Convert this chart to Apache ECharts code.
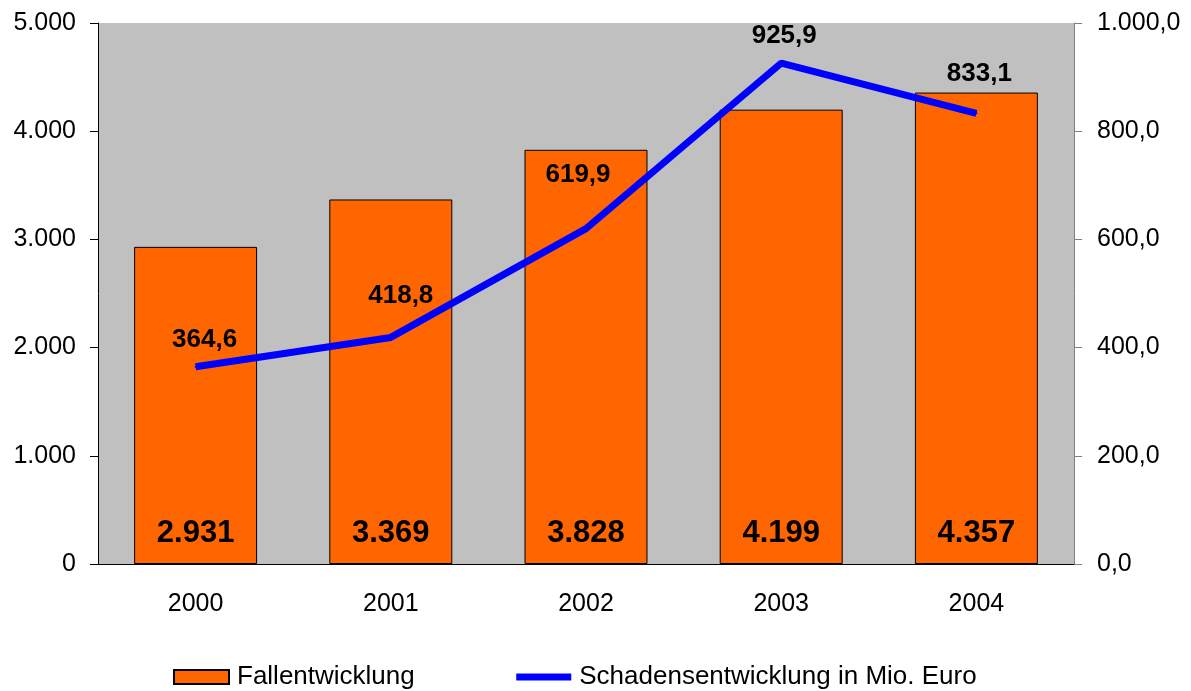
<!DOCTYPE html>
<html>
<head>
<meta charset="utf-8">
<style>
  html, body { margin: 0; padding: 0; background: #ffffff; }
  #chart { width: 1191px; height: 691px; }
</style>
<script src="https://cdn.jsdelivr.net/npm/echarts@6/dist/echarts.min.js"></script>
</head>
<body>
<div id="chart"></div>
<script>
// Jahre und Werte
const years = ['2000', '2001', '2002', '2003', '2004'];
const caseCounts = [2931, 3369, 3828, 4199, 4357];          // Fallentwicklung
const damageMio = [364.6, 418.8, 619.9, 925.9, 833.1];      // Schaden in Mio. Euro
const seriesNames = ['Fallentwicklung', 'Schadensentwicklung in Mio. Euro'];

// Label-Verschiebung der Linienwerte [x, y] in Pixeln
const lineLabelShift = [[9, -13], [10, -28], [-8, -40], [3, -13], [3, -25]];

// Deutsche Zahlenformatierung
function fmtDE(v, decimals) {
  const parts = Number(v).toFixed(decimals).split('.');
  parts[0] = parts[0].replace(/\B(?=(\d{3})+(?!\d))/g, '.');
  return parts.join(',');
}

const font = 'Liberation Sans, Arial, sans-serif';
const chart = echarts.init(document.getElementById('chart'));

chart.setOption({
  animation: false,
  textStyle: { fontFamily: font },
  grid: {
    left: 98, right: 117, top: 23, bottom: 127,
    show: true, backgroundColor: '#C0C0C0', borderWidth: 0
  },
  legend: {
    left: 173, top: 664, padding: 0,
    itemWidth: 55, itemHeight: 14, itemGap: 98,
    textStyle: { fontFamily: font, fontSize: 26, color: '#000', padding: [0, 0, 0, 3] },
    data: [
      { name: seriesNames[0], icon: 'rect' },
      { name: seriesNames[1], itemStyle: { opacity: 0 }, lineStyle: { width: 7, color: '#0000FF' } }
    ]
  },
  xAxis: {
    type: 'category',
    data: years,
    axisLine: { lineStyle: { color: '#000', width: 1 } },
    axisTick: { show: false },
    axisLabel: { fontFamily: font, fontSize: 25, color: '#000', margin: 28 }
  },
  yAxis: [
    {
      type: 'value', min: 0, max: 5000, interval: 1000,
      splitLine: { show: false },
      axisLine: { show: true, lineStyle: { color: '#000', width: 1 } },
      axisTick: { show: true, length: 8, lineStyle: { color: '#000' } },
      axisLabel: { fontFamily: font, fontSize: 25, color: '#000', margin: 22,
                   formatter: v => fmtDE(v, 0) }
    },
    {
      type: 'value', min: 0, max: 1000, interval: 200, position: 'right',
      splitLine: { show: false },
      axisLine: { show: true, lineStyle: { color: '#808080', width: 1 } },
      axisTick: { show: true, length: 8, lineStyle: { color: '#808080' } },
      axisLabel: { fontFamily: font, fontSize: 25, color: '#000', margin: 23,
                   formatter: v => fmtDE(v, 1) }
    }
  ],
  series: [
    {
      name: seriesNames[0],
      type: 'bar',
      yAxisIndex: 0,
      barWidth: '63%',
      data: caseCounts,
      itemStyle: { color: '#FF6600', borderColor: '#000', borderWidth: 1 },
      label: {
        show: true, position: 'insideBottom', distance: 15,
        fontFamily: font, fontSize: 31, fontWeight: 'bold', color: '#000',
        formatter: p => fmtDE(p.value, 0)
      },
      z: 2
    },
    {
      name: seriesNames[1],
      type: 'line',
      yAxisIndex: 1,
      symbol: 'circle',
      symbolSize: 2,
      showSymbol: true,
      data: damageMio.map((v, i) => ({
        value: v,
        label: { offset: lineLabelShift[i] }
      })),
      lineStyle: { color: '#0000FF', width: 7 },
      itemStyle: { color: '#0000FF' },
      label: {
        show: true, position: 'top', distance: 0,
        fontFamily: font, fontSize: 26, fontWeight: 'bold', color: '#000',
        formatter: p => fmtDE(p.value, 1)
      },
      z: 5
    }
  ]
});
</script>
</body>
</html>
